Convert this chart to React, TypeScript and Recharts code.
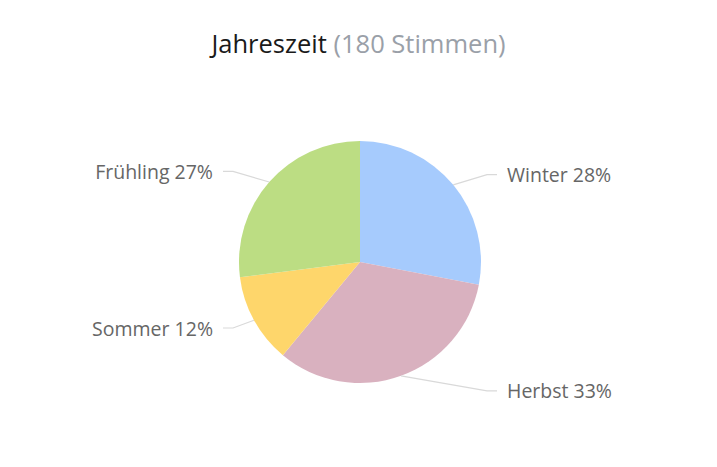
import React from "react";
import { PieChart, Pie, Cell } from "recharts";

// Umfrage: Jahreszeit
const seasons = ["Winter", "Herbst", "Sommer", "Frühling"];
const shares = [28, 33, 12, 27];
const sliceColors = ["#a6cbfd", "#d9b1bf", "#fed66b", "#bcdd83"];
const totalVotes = 180;

const chartData = seasons.map((name, i) => ({ name, value: shares[i] }));

const RADIAN = Math.PI / 180;

const renderLabel = (props: any) => {
  const { cx, cy, midAngle, outerRadius, name, value } = props;
  const cos = Math.cos(-midAngle * RADIAN);
  const sin = Math.sin(-midAngle * RADIAN);
  const right = cos >= 0;
  const dir = right ? 1 : -1;
  // Startpunkt am Rand
  const sx = cx + outerRadius * cos;
  const sy = cy + outerRadius * sin;
  const ly = cy + 137 * sin;
  const ex = cx + dir * 127;
  const hx = cx + dir * 137;
  const tx = cx + dir * 147;
  return (
    <g>
      <path
        d={`M${sx},${sy} L${ex},${ly} L${hx},${ly}`}
        stroke="#d9d9d9"
        strokeWidth={1.2}
        fill="none"
      />
      <text
        x={tx}
        y={ly}
        textAnchor={right ? "start" : "end"}
        dominantBaseline="central"
        fill="#666666"
        fontSize={19.5}
        fontFamily="'Open Sans', sans-serif"
      >
        {`${name} ${value}%`}
      </text>
    </g>
  );
};

export default function App() {
  return (
    <div style={{ position: "relative", width: 717, height: 467, background: "#fff" }}>
      <style>{`body{margin:0}`}</style>
      <div
        style={{
          position: "absolute",
          top: 26,
          left: 0,
          width: 717,
          textAlign: "center",
          fontFamily: "'Open Sans', sans-serif",
          fontSize: 25.5,
          color: "#1a1a1a",
          whiteSpace: "nowrap",
        }}
      >
        Jahreszeit <span style={{ color: "#9aa0a8" }}>({totalVotes} Stimmen)</span>
      </div>
      <PieChart
        width={717}
        height={467}
        margin={{ top: 0, right: 0, bottom: 0, left: 0 }}
        style={{ position: "absolute", top: 0, left: 0 }}
      >
        <Pie
          data={chartData}
          dataKey="value"
          nameKey="name"
          cx={360}
          cy={262}
          outerRadius={121}
          startAngle={90}
          endAngle={-270}
          stroke="none"
          labelLine={false}
          label={renderLabel}
          isAnimationActive={false}
        >
          {chartData.map((d, i) => (
            <Cell key={d.name} fill={sliceColors[i]} />
          ))}
        </Pie>
      </PieChart>
    </div>
  );
}
